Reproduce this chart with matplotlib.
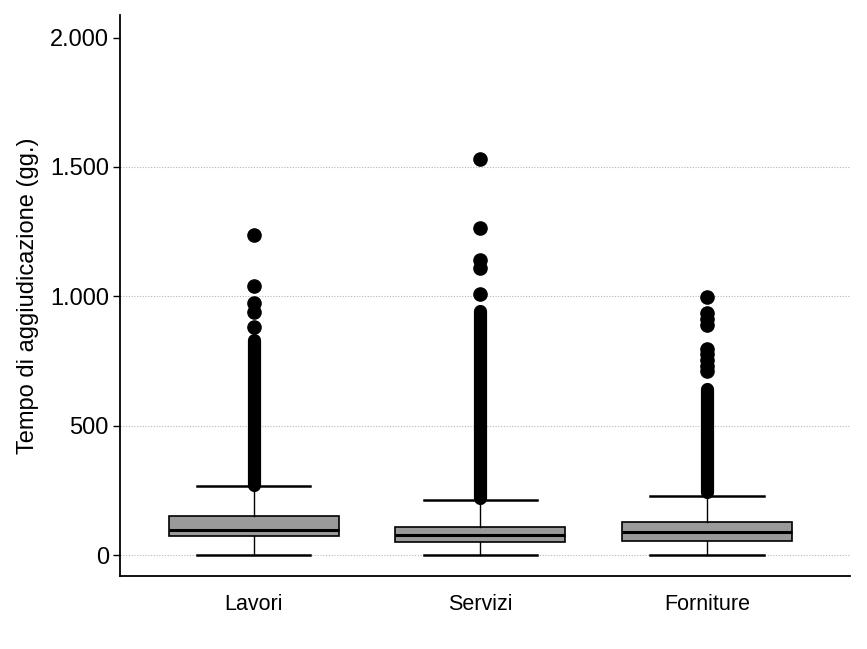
import matplotlib
matplotlib.use("Agg")
import matplotlib.pyplot as plt
from matplotlib.ticker import FuncFormatter

# ---- data ----
categories = ["Lavori", "Servizi", "Forniture"]
whisker_low = [0, 0, 0]
q1 = [73, 50, 54]
median = [98, 76, 89]
q3 = [149, 110, 127]
whisker_high = [266, 213, 230]
# dense runs of overlapping outliers (centre of lowest / highest circle)
dense_low = [271, 219, 242]
dense_high = [830, 944, 640]
# separate outliers
outliers_lavori = [880, 940, 976, 1040, 1237]
outliers_servizi = [1010, 1110, 1142, 1264, 1530]
outliers_forniture = [710, 732, 755, 777, 798, 890, 913, 935, 999]
y_ticks = [0, 500, 1000, 1500, 2000]

outliers = [outliers_lavori, outliers_servizi, outliers_forniture]

plt.rcParams["font.family"] = ["Liberation Sans", "DejaVu Sans"]

fig = plt.figure(figsize=(8.67, 6.49), dpi=100)
ax = fig.add_axes([0.1384, 0.1125, 0.842, 0.865])

positions = list(range(1, len(categories) + 1))
stats = []
for i, name in enumerate(categories):
    stats.append(dict(label=name, whislo=whisker_low[i], q1=q1[i], med=median[i],
                      q3=q3[i], whishi=whisker_high[i], fliers=outliers[i]))

ax.bxp(stats, positions=positions, widths=0.75, patch_artist=True,
       showfliers=True,
       boxprops=dict(facecolor="#9a9a9a", edgecolor="black", linewidth=1.2),
       medianprops=dict(color="black", linewidth=2.2),
       whiskerprops=dict(color="black", linewidth=1.0),
       capprops=dict(color="black", linewidth=1.8),
       capwidths=0.5,
       flierprops=dict(marker="o", markerfacecolor="black", markeredgecolor="black",
                       markersize=9.5, linestyle="none"),
       zorder=3)

for i, p in enumerate(positions):
    ax.plot([p, p], [dense_low[i], dense_high[i]], color="black", linewidth=9.5,
            solid_capstyle="round", zorder=4)

ax.set_xlim(0.41, 3.63)
ax.set_ylim(-81, 2089)
ax.set_yticks(y_ticks)
ax.yaxis.set_major_formatter(FuncFormatter(lambda v, _: f"{int(v):,}".replace(",", ".")))
ax.set_xticks(positions)
ax.set_xticklabels(categories)

for y in y_ticks[:-1]:
    ax.axhline(y, color="#b5b5b5", linestyle=(0, (1, 1.5)), linewidth=0.8, zorder=1)

ax.spines["top"].set_visible(False)
ax.spines["right"].set_visible(False)
ax.spines["left"].set_linewidth(1.3)
ax.spines["bottom"].set_linewidth(1.3)

ax.tick_params(axis="y", labelsize=17, length=5, width=1.0, pad=3)
ax.tick_params(axis="x", labelsize=15.5, length=0, pad=13)
ax.set_ylabel("Tempo di aggiudicazione (gg.)", fontsize=17, labelpad=8)

fig.savefig("out.png", dpi=100)
